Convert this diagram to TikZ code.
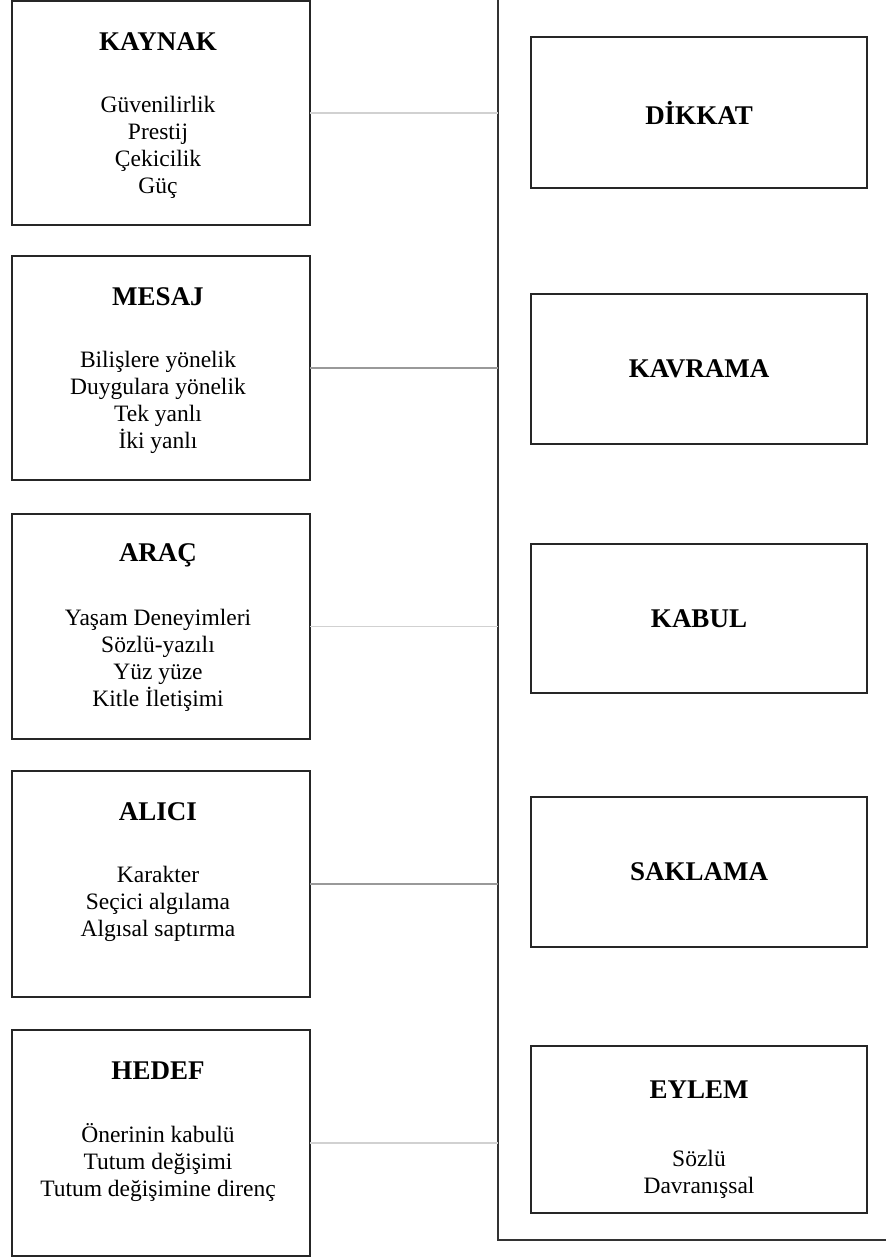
\documentclass[tikz,border=0pt]{standalone}
\usepackage{fontspec}
\setmainfont{Liberation Serif}
\begin{document}
\begin{tikzpicture}[x=1pt,y=-1pt,
  box/.style={draw=black!85, line width=1.8pt, anchor=north west, inner sep=0pt, outer sep=0pt},
  lbox/.style={box, minimum width=298pt, minimum height=224pt},
  rbox/.style={box, minimum width=336pt, minimum height=150pt},
  frame/.style={draw=black!80, line width=1.8pt, anchor=north west, inner sep=0pt, outer sep=0pt,
    minimum width=420pt, minimum height=1241.5pt},
  title/.style={font=\fontsize{27}{32}\selectfont\bfseries, inner sep=0pt},
  body/.style={font=\fontsize{23.5}{27}\selectfont, align=center, inner sep=0pt},
  link/.style={line width=1.3pt},
  linklight/.style={link, draw=black!18},
  linkdark/.style={link, draw=black!40}]
\useasboundingbox (0,0) rectangle (886,1259);

% outer frame holding the stages (its top edge runs along the page edge)
\node[frame] (frame) at (498,-1.5) {};

% left column: factors
\node[lbox] (kaynak) at (12,1) {};
\node[title] (kaynakT) at (158,42) {KAYNAK};
\node[body] (kaynakB) at (158,147) {Güvenilirlik\\Prestij\\Çekicilik\\Güç};

\node[lbox] (mesaj) at (12,256) {};
\node[title] (mesajT) at (158,297) {MESAJ};
\node[body] (mesajB) at (158,402) {Bilişlere yönelik\\Duygulara yönelik\\Tek yanlı\\İki yanlı};

\node[lbox, minimum height=225pt] (arac) at (12,514) {};
\node[title] (aracT) at (158,555) {ARAÇ};
\node[body] (aracB) at (158,660) {Yaşam Deneyimleri\\Sözlü-yazılı\\Yüz yüze\\Kitle İletişimi};

\node[lbox, minimum height=226pt] (alici) at (12,771) {};
\node[title] (aliciT) at (158,812) {ALICI};
\node[body] (aliciB) at (158,904) {Karakter\\Seçici algılama\\Algısal saptırma};

\node[lbox, minimum height=226pt] (hedef) at (12,1030) {};
\node[title] (hedefT) at (158,1071) {HEDEF};
\node[body] (hedefB) at (158,1163) {Önerinin kabulü\\Tutum değişimi\\Tutum değişimine direnç};

% right column: stages
\node[rbox, minimum height=151pt] (dikkat) at (531,37) {};
\node[title] at (dikkat.center) {DİKKAT};

\node[rbox] (kavrama) at (531,294) {};
\node[title] at (kavrama.center) {KAVRAMA};

\node[rbox, minimum height=149pt] (kabul) at (531,544) {};
\node[title] at (kabul.center) {KABUL};

\node[rbox] (saklama) at (531,797) {};
\node[title] at (saklama.center) {SAKLAMA};

\node[rbox, minimum height=167pt] (eylem) at (531,1046) {};
\node[title] (eylemT) at (699,1090) {EYLEM};
\node[body] (eylemB) at (699,1174) {Sözlü\\Davranışsal};

% links from each factor to the frame
\draw[linklight] (kaynak.east) -- (kaynak.east -| frame.west);
\draw[linkdark]  (mesaj.east)  -- (mesaj.east -| frame.west);
\draw[linklight] (arac.east)   -- (arac.east -| frame.west);
\draw[linkdark]  (alici.east)  -- (alici.east -| frame.west);
\draw[linklight] (hedef.east)  -- (hedef.east -| frame.west);
\end{tikzpicture}
\end{document}
